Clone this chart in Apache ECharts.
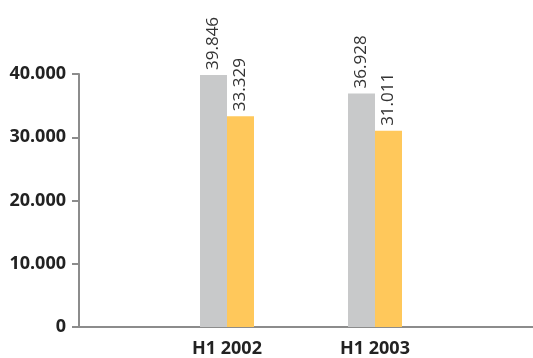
<!DOCTYPE html>
<html>
<head>
<meta charset="utf-8">
<script src="https://cdn.jsdelivr.net/npm/echarts@6/dist/echarts.min.js"></script>
<style>
html,body{margin:0;padding:0;background:#fff;}
#c{width:533px;height:358px;}
</style>
</head>
<body>
<div id="c"></div>
<script>
var categories = ['', 'H1 2002', 'H1 2003', ''];
var seriesGrey = ['-', 39846, 36928, '-'];
var seriesOrange = ['-', 33329, 31011, '-'];
var yTicks = [0, 10000, 20000, 30000, 40000];

function fmt(v) {
  if (v === 0) return '0';
  return (v / 1000).toFixed(3);
}

var chart = echarts.init(document.getElementById('c'), null, {renderer: 'canvas'});
var labelCfg = {
  show: true,
  position: 'top',
  rotate: 90,
  align: 'left',
  verticalAlign: 'middle',
  distance: 5,
  fontFamily: 'Open Sans',
  fontSize: 17,
  color: '#333',
  formatter: function (p) { return fmt(p.value); }
};
chart.setOption({
  animation: false,
  grid: {left: 79, right: 10, top: 74, bottom: 31, containLabel: false},
  xAxis: {
    type: 'category',
    data: categories,
    boundaryGap: false,
    axisLine: {lineStyle: {color: '#8c8c8c', width: 2}},
    axisTick: {show: false},
    axisLabel: {
      interval: 0,
      margin: 13,
      fontFamily: 'Open Sans',
      fontWeight: 'bold',
      fontSize: 18,
      color: '#222'
    },
    splitLine: {show: false}
  },
  yAxis: {
    type: 'value',
    min: yTicks[0],
    max: yTicks[yTicks.length - 1],
    interval: yTicks[1] - yTicks[0],
    axisLine: {show: true, lineStyle: {color: '#8c8c8c', width: 2}},
    axisTick: {show: true, length: 7, lineStyle: {color: '#8c8c8c', width: 2}},
    splitLine: {show: false},
    axisLabel: {
      margin: 13,
      fontFamily: 'Open Sans',
      fontWeight: 'bold',
      fontSize: 18,
      color: '#222',
      formatter: fmt
    }
  },
  series: [
    {
      type: 'bar',
      data: seriesGrey,
      barWidth: 27,
      barGap: '0%',
      itemStyle: {color: '#c8c9ca'},
      label: labelCfg
    },
    {
      type: 'bar',
      data: seriesOrange,
      barWidth: 27,
      barGap: '0%',
      itemStyle: {color: '#ffc85b'},
      label: labelCfg
    }
  ],
  graphic: [{
    type: 'line',
    shape: {x1: 522, y1: 327, x2: 533, y2: 327},
    style: {stroke: '#8c8c8c', lineWidth: 2}
  }]
});
</script>
</body>
</html>
